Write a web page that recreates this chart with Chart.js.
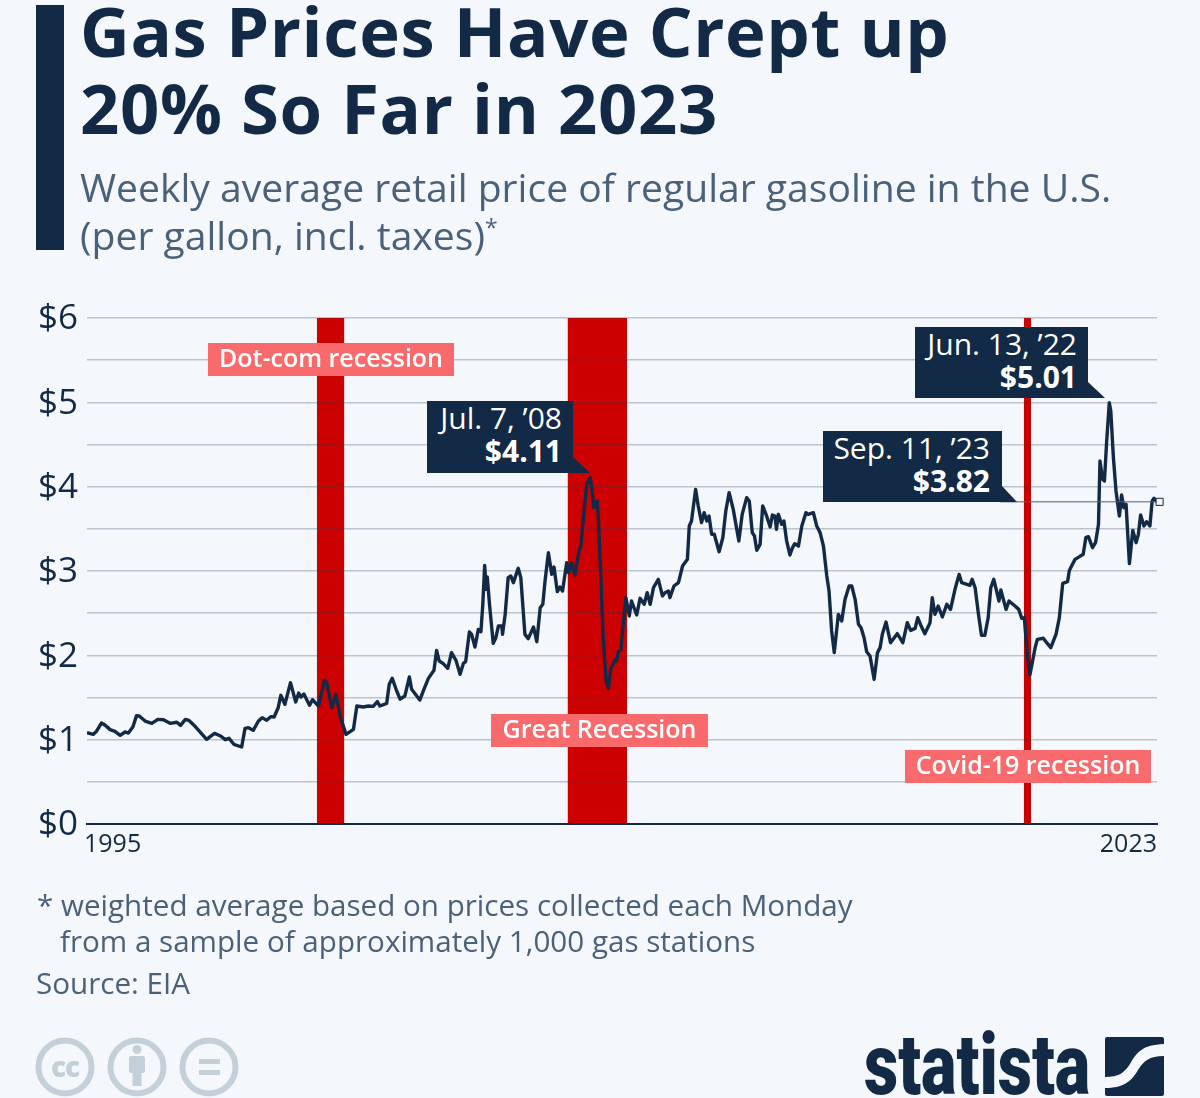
<!DOCTYPE html>
<html><head><meta charset="utf-8">
<script src="https://cdn.jsdelivr.net/npm/chart.js@4"></script>
<style>
html,body{margin:0;padding:0;background:#f4f8fc;}
body{width:1200px;height:1098px;position:relative;overflow:hidden;font-family:"Open Sans",sans-serif;color:#122a45;}
canvas{position:absolute;left:0;top:0;}
.a{position:absolute;white-space:nowrap;}
#bar{left:36px;top:5px;width:28px;height:245px;background:#122a45;}
#title{left:80px;top:-8px;font-size:68.8px;font-weight:700;line-height:77px;letter-spacing:.62px;}
#sub{left:80px;top:163px;font-size:39.1px;line-height:48px;color:#4b617a;}
#sub sup{font-size:23px;line-height:0;}
.call{background:#122a45;color:#fff;font-size:30px;line-height:36px;text-align:right;box-sizing:border-box;}
.call b{font-weight:700;}
.call div{position:absolute;right:0;white-space:nowrap;}
.rec{background:#f96a6c;color:#fff;font-size:25px;font-weight:600;line-height:29px;height:33px;text-align:center;}
.foot{font-size:29.6px;line-height:36px;color:#4b617a;}
</style></head>
<body>
<canvas id="c" width="1200" height="1098"></canvas>
<div class="a" id="bar"></div>
<div class="a" id="title">Gas Prices Have Crept up<br>20% So Far in 2023</div>
<div class="a" id="sub">Weekly average retail price of regular gasoline in the U.S.<br>(per gallon, incl. taxes)<sup>*</sup></div>

<div class="a rec" style="left:208px;top:343px;width:246px;">Dot-com recession</div>
<div class="a rec" style="left:491px;top:714px;width:217px;">Great Recession</div>
<div class="a rec" style="left:905px;top:750px;width:246px;">Covid-19 recession</div>

<div class="a call" style="left:427px;top:401px;width:163px;height:72px;clip-path:polygon(0 0,146px 0,146px 56px,163px 72px,0 72px);"><div style="right:28px;top:-1px;">Jul. 7, ’08</div><div style="right:28px;top:32px;"><b>$4.11</b></div></div>
<div class="a call" style="left:915px;top:327px;width:190px;height:71px;clip-path:polygon(0 0,173px 0,173px 55px,190px 71px,0 71px);"><div style="right:28px;top:-1px;">Jun. 13, ’22</div><div style="right:28px;top:32px;"><b>$5.01</b></div></div>
<div class="a call" style="left:823px;top:431px;width:194px;height:71px;clip-path:polygon(0 0,179px 0,179px 55px,194px 71px,0 71px);"><div style="right:27px;top:-1px;">Sep. 11, ’23</div><div style="right:27px;top:32px;"><b>$3.82</b></div></div>

<div class="a foot" style="left:37px;top:887px;">* weighted average based on prices collected each Monday<br><span style="margin-left:23px">from a sample of approximately 1,000 gas stations</span></div>
<div class="a foot" style="left:36px;top:965px;">Source: EIA</div>

<svg class="a" style="left:30px;top:1032px;" width="220" height="66" viewBox="0 0 220 66">
  <g fill="none" stroke="#c4d0d9" stroke-width="6"><circle cx="35" cy="35" r="26.5"/><circle cx="107" cy="35" r="26.5"/><circle cx="179" cy="35" r="26.5"/></g>
  <text x="35" y="45" text-anchor="middle" font-family="Open Sans" font-weight="800" font-size="28" fill="#c4d0d9" letter-spacing="-1">cc</text>
  <g fill="#c4d0d9"><circle cx="107" cy="17.500" r="4.500"/><rect x="99" y="24" width="16" height="17" rx="2"/><rect x="102.500" y="38" width="9" height="16"/>
  <rect x="169" y="27" width="21" height="5"/><rect x="169" y="38" width="21" height="5"/></g>
</svg>
<div class="a" id="logo" style="left:864px;top:1015px;font-family:Roboto,sans-serif;font-weight:900;font-size:86px;line-height:100px;transform-origin:0 0;transform:scaleX(.775);">statista</div>
<svg class="a" style="left:1105px;top:1037px;" width="59" height="59" viewBox="0 0 59 59">
  <rect x="0" y="0" width="59" height="59" rx="2" fill="#122a45"/>
  <path d="M0 40 C14 40 19 36 25 27 C32 15 37 8 59 7 L59 19 C44 19 39 24 33 33 C26 45 18 51 0 51 Z" fill="#f4f8fc"/>
</svg>

<script>
const years = [1995,1995.17,1995.26,1995.39,1995.48,1995.62,1995.75,1995.89,1996.02,1996.11,1996.23,1996.33,1996.4,1996.56,1996.74,1996.9,1997.05,1997.23,1997.41,1997.51,1997.64,1997.73,1997.9,1998.21,1998.42,1998.57,1998.71,1998.81,1998.94,1999.15,1999.24,1999.33,1999.46,1999.6,1999.7,1999.82,1999.93,2000.02,2000.13,2000.2,2000.31,2000.46,2000.6,2000.68,2000.74,2000.82,2000.97,2001.05,2001.21,2001.37,2001.43,2001.57,2001.68,2001.79,2001.95,2002.15,2002.24,2002.41,2002.55,2002.68,2002.79,2002.86,
2003.04,2003.11,2003.19,2003.31,2003.4,2003.53,2003.65,2003.71,2003.93,2004.04,2004.16,2004.31,2004.38,2004.45,2004.56,2004.68,2004.78,2004.9,2005.01,2005.1,2005.16,2005.26,2005.32,2005.41,2005.5,2005.57,2005.62,2005.67,2005.71,2005.74,2005.8,2005.9,2005.97,2006.04,2006.13,2006.15,2006.22,2006.3,2006.37,2006.44,2006.57,2006.64,2006.75,2006.84,2006.98,2007.07,2007.16,2007.23,2007.29,2007.38,2007.47,2007.53,2007.62,2007.69,2007.76,2007.87,2007.92,2008,2008.09,2008.21,2008.25,2008.32,2008.41,2008.5,2008.54,2008.6,2008.69,2008.72,2008.78,2008.85,2008.93,2008.99,2009.05,2009.17,2009.21,2009.26,2009.32,2009.46,2009.55,2009.61,2009.75,2009.84,2009.95,2010.03,2010.11,2010.2,2010.33,2010.44,2010.51,2010.6,
2010.64,2010.75,2010.87,2010.98,2011.11,2011.16,2011.22,2011.33,2011.4,2011.49,2011.56,2011.63,2011.69,2011.76,2011.83,2011.96,2012.06,2012.14,2012.23,2012.34,2012.49,2012.58,2012.7,2012.77,2012.85,2012.91,2012.97,2013.06,2013.13,2013.22,2013.33,2013.39,2013.46,2013.5,2013.55,2013.64,2013.7,2013.77,2013.86,2013.93,2013.99,2014.09,2014.18,2014.29,2014.35,2014.49,2014.58,2014.67,2014.76,2014.85,2014.91,2014.98,2015.05,2015.16,2015.25,2015.34,2015.45,2015.52,2015.61,2015.7,2015.77,2015.85,2015.92,2016.01,2016.12,2016.21,2016.28,2016.34,2016.44,2016.56,2016.74,2016.89,2017.01,2017.1,2017.22,2017.29,2017.37,
2017.48,2017.62,2017.68,2017.75,2017.84,2017.95,2018.07,2018.17,2018.29,2018.4,2018.47,2018.69,2018.75,2018.83,2018.92,2019,2019.09,2019.18,2019.25,2019.33,2019.47,2019.52,2019.66,2019.74,2019.9,2020,2020.08,2020.15,2020.23,2020.3,2020.44,2020.5,2020.66,2020.75,2020.86,2021,2021.09,2021.18,2021.31,2021.36,2021.51,2021.63,2021.73,2021.8,2021.87,2021.98,2022.06,2022.14,2022.18,2022.25,2022.3,2022.36,2022.43,2022.47,2022.54,2022.61,2022.7,2022.76,2022.82,2022.88,2022.97,2023.06,2023.15,2023.21,2023.27,2023.36,2023.43,2023.52,2023.58,2023.63,2023.7];
const prices = [1.083,1.063,1.103,1.198,1.174,1.119,1.099,1.051,1.091,1.079,1.15,1.285,1.281,1.221,1.194,1.241,1.237,1.194,1.206,1.17,1.241,1.229,1.158,1.004,1.075,1.047,1,1.016,0.945,0.913,1.134,1.142,1.111,1.221,1.261,1.229,1.273,1.269,1.379,1.526,1.419,1.676,1.447,1.553,1.506,1.541,1.407,1.474,1.399,1.704,1.676,1.379,1.538,1.281,1.063,1.123,1.399,1.387,1.399,1.395,1.451,1.399,
1.43,1.656,1.727,1.577,1.48,1.518,1.743,1.597,1.47,1.597,1.727,1.822,2.059,1.933,1.901,1.846,2.032,1.941,1.775,1.905,1.925,2.277,2.249,2.099,2.308,2.281,2.605,3.067,2.783,2.929,2.605,2.142,2.209,2.348,2.348,2.249,2.486,2.921,2.941,2.862,3.032,2.921,2.249,2.198,2.336,2.162,2.565,2.605,2.881,3.217,2.96,3.047,2.755,2.81,2.763,3.099,2.98,3.099,2.953,3.257,3.296,3.632,4.028,4.107,3.988,3.751,3.83,3.632,3,2.209,1.696,1.609,1.834,1.945,1.933,2.051,2.059,2.684,2.466,2.644,2.478,2.676,2.605,2.743,2.605,2.802,2.901,2.704,2.743,2.763,
2.684,2.822,2.862,3.059,3.138,3.534,3.593,3.968,3.771,3.573,3.692,3.593,3.652,3.435,3.435,3.229,3.395,3.711,3.929,3.731,3.356,3.672,3.87,3.83,3.455,3.415,3.245,3.316,3.771,3.672,3.522,3.664,3.652,3.494,3.672,3.553,3.593,3.364,3.19,3.277,3.324,3.296,3.534,3.692,3.672,3.692,3.534,3.455,3.296,2.941,2.763,2.289,2.032,2.486,2.407,2.664,2.822,2.822,2.664,2.368,2.328,2.209,2.043,1.992,1.715,2.032,2.091,2.249,2.395,2.15,2.257,2.15,2.387,2.296,2.32,2.447,2.36,
2.257,2.387,2.684,2.486,2.585,2.455,2.605,2.545,2.783,2.96,2.862,2.83,2.901,2.802,2.486,2.237,2.237,2.447,2.802,2.901,2.644,2.775,2.545,2.644,2.585,2.545,2.439,2.447,2.012,1.767,2.091,2.19,2.202,2.15,2.091,2.249,2.447,2.854,2.874,3.008,3.138,3.17,3.198,3.395,3.407,3.277,3.336,3.553,4.304,4.087,4.067,4.542,4.996,4.897,4.344,3.949,3.652,3.901,3.751,3.79,3.087,3.482,3.336,3.435,3.664,3.534,3.585,3.534,3.83,3.862,3.822];

const yTickLabels = ['$0','$1','$2','$3','$4','$5','$6'];
const xTickLabels = ['1995','2023'];
const xRange = [1995, 2023.71];
const xTicks = [1994.92, 2023.71];
const recessionStarts = [2001.17, 2007.9, 2020.14];
const recessionEnds = [2001.9, 2009.49, 2020.33];
const latestYear = [2019.5, 2023.78];
const latestPrice = [3.82, 3.82];

const navy = '#122a45';
const toXY = (xs, ys) => xs.map((x, i) => ({x, y: ys[i]}));

const recessionBands = {
  id: 'recessionBands',
  beforeDraw(chart) {
    const {ctx, chartArea: a, scales: {x}} = chart;
    ctx.save();
    ctx.fillStyle = '#cc0000';
    recessionStarts.forEach((s, i) => {
      const l = x.getPixelForValue(s), r = x.getPixelForValue(recessionEnds[i]);
      ctx.fillRect(l, a.top, r - l, a.bottom - a.top);
    });
    ctx.restore();
  }
};

new Chart(document.getElementById('c'), {
  type: 'line',
  plugins: [recessionBands],
  data: {
    datasets: [
      {label: 'Gasoline price', data: toXY(years, prices), borderColor: navy, borderWidth: 3.4, pointRadius: 0, tension: 0, borderJoinStyle: 'round', order: 1},
      {label: 'Latest', data: toXY(latestYear, latestPrice), borderColor: '#4b5d72', borderWidth: 1, clip: false, order: 0,
       pointRadius: [0, 5], pointStyle: 'rect', pointBackgroundColor: '#f4f8fc', pointBorderColor: navy, pointBorderWidth: 1}
    ]
  },
  options: {
    responsive: false,
    animation: false,
    devicePixelRatio: 1,
    layout: {padding: {top: 318, right: 43, left: 0, bottom: 0}},
    plugins: {legend: {display: false}, tooltip: {enabled: false}},
    scales: {
      x: {
        type: 'linear', min: xRange[0], max: xRange[1],
        afterFit(s) { s.height = 274; },
        afterBuildTicks(s) { s.ticks = xTicks.map(value => ({value})); },
        grid: {display: false, drawTicks: false},
        border: {display: true, color: navy, width: 2},
        ticks: {autoSkip: false, maxRotation: 0, align: 'inner', padding: 6, color: navy,
          font: {family: 'Open Sans', size: 25},
          callback: (v) => xTickLabels[xTicks.indexOf(v)]}
      },
      y: {
        min: 0, max: 6,
        afterFit(s) { s.width = 87; },
        grid: {color: 'rgba(40,60,85,0.28)', lineWidth: 1.5, drawTicks: false},
        border: {display: false},
        ticks: {stepSize: 0.5, autoSkip: false, padding: 9, labelOffset: 1.5, color: navy,
          font: {family: 'Open Sans', size: 35},
          callback: (v) => Number.isInteger(v) ? yTickLabels[v] : ''}
      }
    }
  }
});
</script>
</body></html>
